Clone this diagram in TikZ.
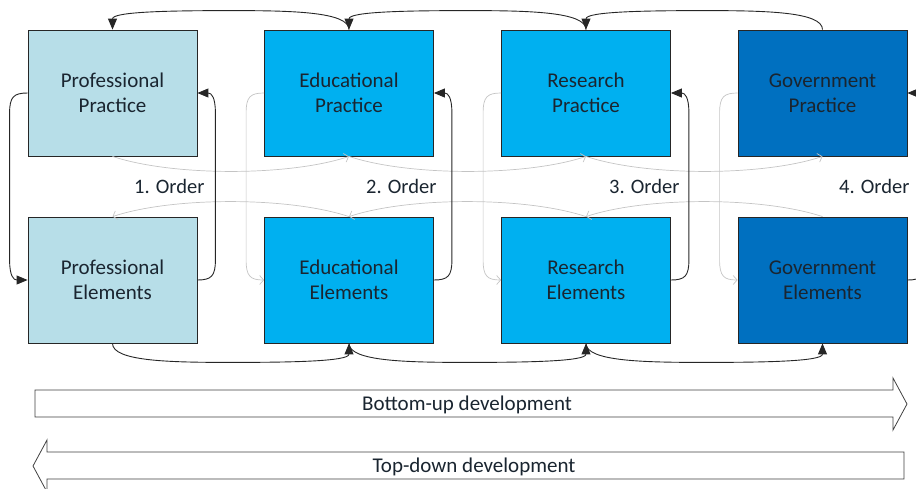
\documentclass[tikz,border=0pt]{standalone}
\usepackage{fontspec}
\setmainfont{Carlito}
\usetikzlibrary{arrows.meta,calc}
\definecolor{profc}{HTML}{B7DEE8}
\definecolor{educ}{HTML}{00B0F0}
\definecolor{govc}{HTML}{0070C0}
\definecolor{graylink}{HTML}{C4C4C4}
\definecolor{txt}{HTML}{1A2530}
\begin{document}
\begin{tikzpicture}[x=1pt,y=-1pt,
  box/.style={draw=black!85,line width=0.8pt,minimum width=169pt,minimum height=126pt,
    align=center,font=\fontsize{21}{25}\selectfont,text=txt,inner sep=0pt},
  blk/.style={draw=black!85,line width=0.9pt,-{Triangle[length=11pt,width=9pt]}},
  gry/.style={draw=graylink,line width=0.7pt,-{Straight Barb[length=4pt,width=9pt]}},
  lbl/.style={anchor=east,font=\fontsize{20.5}{24}\selectfont,text=txt},
  bigarrow/.style={draw=black!75,line width=0.8pt,fill=white},
  bigtext/.style={font=\fontsize{21}{24}\selectfont,text=txt}]
\useasboundingbox (0,0) rectangle (916,488);

% boxes
\node[box,fill=profc] (PP) at (112.5,93) {Professional\\Practice};
\node[box,fill=educ]  (EP) at (349,93)   {Educational\\Practice};
\node[box,fill=educ]  (RP) at (586,93)   {Research\\Practice};
\node[box,fill=govc]  (GP) at (822.5,93) {Government\\Practice};
\node[box,fill=profc] (PE) at (112.5,280) {Professional\\Elements};
\node[box,fill=educ]  (EE) at (349,280)   {Educational\\Elements};
\node[box,fill=educ]  (RE) at (586,280)   {Research\\Elements};
\node[box,fill=govc]  (GE) at (822.5,280) {Government\\Elements};

% gray connectors
\draw[gry] (PP.south) .. controls +(60,20) and +(-60,20) .. (EP.south);
\draw[gry] (EP.south) .. controls +(60,20) and +(-60,20) .. (RP.south);
\draw[gry] (RP.south) .. controls +(60,20) and +(-60,20) .. (GP.south);
\draw[gry] (EE.north) .. controls +(-60,-20) and +(60,-20) .. (PE.north);
\draw[gry] (RE.north) .. controls +(-60,-20) and +(60,-20) .. (EE.north);
\draw[gry] (GE.north) .. controls +(-60,-20) and +(60,-20) .. (RE.north);
\foreach \a/\b in {EP/EE,RP/RE,GP/GE}{
  \draw[gry] (\a.west) .. controls +(-14,0) and +(0,-16) .. ++(-18,20)
    -- ($(\b.west)+(-18,-20)$) .. controls +(0,16) and +(-14,0) .. (\b.west);
}

% black connectors: top row
\foreach \s/\d in {EP/PP,RP/EP,GP/RP}{
  \draw[blk] (\s.north) .. controls +(0,-18) and +(60,0) ..
    ($(\s.north)!0.5!(\d.north)+(0,-19)$) .. controls +(-60,0) and +(0,-18) .. (\d.north);
}
% black connectors: bottom row
\foreach \s/\d in {PE/EE,EE/RE,RE/GE}{
  \draw[blk] (\s.south) .. controls +(0,18) and +(-60,0) ..
    ($(\s.south)!0.5!(\d.south)+(0,19)$) .. controls +(60,0) and +(0,18) .. (\d.south);
}
% left loop of professional
\draw[blk] (PP.west) .. controls +(-14,0) and +(0,-16) .. ++(-18,20)
  -- ($(PE.west)+(-18,-20)$) .. controls +(0,16) and +(-14,0) .. (PE.west);
% right loops
\foreach \b/\a in {PE/PP,EE/EP,RE/RP,GE/GP}{
  \draw[blk] (\b.east) .. controls +(14,0) and +(0,16) .. ++(18,-20)
    -- ($(\a.east)+(18,20)$) .. controls +(0,-16) and +(14,0) .. (\a.east);
}

% order labels
\node[lbl] (o1) at (208,186) {1. Order};
\node[lbl] (o2) at (440,186) {2. Order};
\node[lbl] (o3) at (683,186) {3. Order};
\node[lbl] (o4) at (913,186) {4. Order};

% development arrows
\draw[bigarrow] (35,390) -- (893,390) -- (893,378) -- (907,404) -- (893,430) -- (893,417) -- (35,417) -- cycle;
\node[bigtext] (bu) at (467,405) {Bottom-up development};
\draw[bigarrow] (904,452) -- (47,452) -- (47,440) -- (33,466) -- (47,492) -- (47,479) -- (904,479) -- cycle;
\node[bigtext] (td) at (474,467) {Top-down development};
\end{tikzpicture}
\end{document}
